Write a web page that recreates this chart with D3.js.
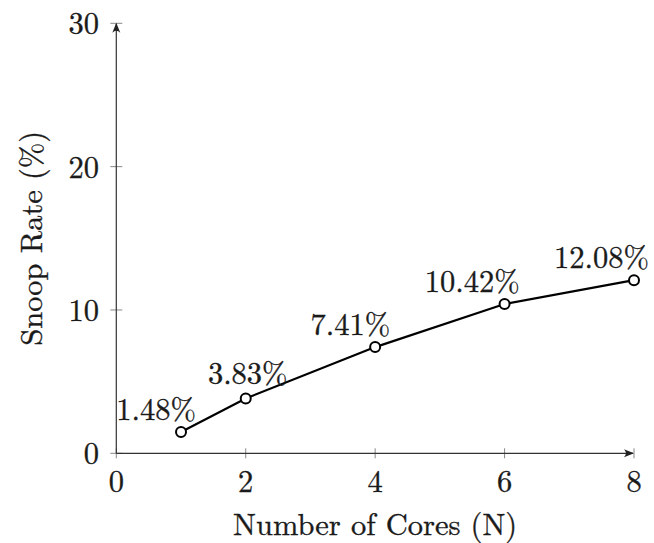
<!DOCTYPE html>
<html>
<head>
<meta charset="utf-8">
<script src="https://cdn.jsdelivr.net/npm/d3@7"></script>
<style>
  html, body { margin: 0; padding: 0; background: #fff; }
  svg { display: block; }
</style>
</head>
<body>
<svg id="chart" width="654" height="543"></svg>
<script>
const cores = [1, 2, 4, 6, 8];
const snoopRate = [1.48, 3.83, 7.41, 10.42, 12.08];
const pointLabels = ["1.48%", "3.83%", "7.41%", "10.42%", "12.08%"];
const xTicks = [0, 2, 4, 6, 8];
const yTicks = [0, 10, 20, 30];
const xTitle = "Number of Cores (N)";
const yTitle = "Snoop Rate (%)";

// layout: which side of the point each value label sits on
const labelAnchors = ["end", "middle", "end", "end", "end"];

const FONT = "Latin Modern Roman";
const FS = 30.5;
const svg = d3.select("#chart");
const x = d3.scaleLinear().domain([0, 8]).range([116.3, 634]);
const y = d3.scaleLinear().domain([0, 30]).range([453.3, 23.3]);

const defs = svg.append("defs");
defs.append("marker")
  .attr("id", "arrow")
  .attr("viewBox", "0 0 10 10")
  .attr("refX", 9).attr("refY", 5)
  .attr("markerWidth", 10).attr("markerHeight", 10)
  .attr("markerUnits", "userSpaceOnUse")
  .attr("orient", "auto")
  .append("path")
  .attr("d", "M0,1 Q4,5 0,9 L10,5 Z")
  .attr("fill", "#222");

// ticks
const tickColor = "#888";
svg.append("g").selectAll("line").data(xTicks).join("line")
  .attr("x1", d => x(d)).attr("x2", d => x(d))
  .attr("y1", y(0) - 5).attr("y2", y(0) + 5)
  .attr("stroke", tickColor).attr("stroke-width", 1);
svg.append("g").selectAll("line").data(yTicks).join("line")
  .attr("x1", x(0) - 6).attr("x2", x(0) + 6)
  .attr("y1", d => y(d)).attr("y2", d => y(d))
  .attr("stroke", tickColor).attr("stroke-width", 1);

// axis lines with arrows
svg.append("line")
  .attr("x1", x(0)).attr("x2", x(8) - 1)
  .attr("y1", y(0)).attr("y2", y(0))
  .attr("stroke", "#333").attr("stroke-width", 1.2)
  .attr("marker-end", "url(#arrow)");
svg.append("line")
  .attr("x1", x(0)).attr("x2", x(0))
  .attr("y1", y(0)).attr("y2", y(30) + 0.5)
  .attr("stroke", "#333").attr("stroke-width", 1.2)
  .attr("marker-end", "url(#arrow)");

function txt(sel) {
  return sel.attr("font-family", FONT).attr("font-size", FS)
    .attr("fill", "#1a1a1a").attr("stroke", "#1a1a1a").attr("stroke-width", 0.35);
}

// tick labels
txt(svg.append("g").selectAll("text").data(xTicks).join("text"))
  .attr("x", d => x(d)).attr("y", 492)
  .attr("text-anchor", "middle")
  .text(d => d);
txt(svg.append("g").selectAll("text").data(yTicks).join("text"))
  .attr("x", 99).attr("y", d => y(d) + 11)
  .attr("text-anchor", "end")
  .text(d => d);

// axis titles
txt(svg.append("text"))
  .attr("x", (x(0) + x(8)) / 2).attr("y", 535)
  .attr("text-anchor", "middle")
  .text(xTitle);
txt(svg.append("text"))
  .attr("transform", `translate(42, ${(y(0) + y(30)) / 2}) rotate(-90)`)
  .attr("text-anchor", "middle")
  .text(yTitle);

// data line
const data = cores.map((c, i) => ({ c, v: snoopRate[i], label: pointLabels[i], anchor: labelAnchors[i] }));
svg.append("path")
  .datum(data)
  .attr("d", d3.line().x(d => x(d.c)).y(d => y(d.v)))
  .attr("fill", "none").attr("stroke", "#000").attr("stroke-width", 2.2);
svg.append("g").selectAll("circle").data(data).join("circle")
  .attr("cx", d => x(d.c)).attr("cy", d => y(d.v)).attr("r", 5)
  .attr("fill", "#fff").attr("stroke", "#000").attr("stroke-width", 2);

// point labels
txt(svg.append("g").selectAll("text").data(data).join("text"))
  .attr("x", d => x(d.c) + (d.anchor === "end" ? 15 : 2))
  .attr("y", d => y(d.v) - (d.anchor === "end" ? 12 : 14))
  .attr("text-anchor", d => d.anchor)
  .text(d => d.label);
</script>
</body>
</html>
